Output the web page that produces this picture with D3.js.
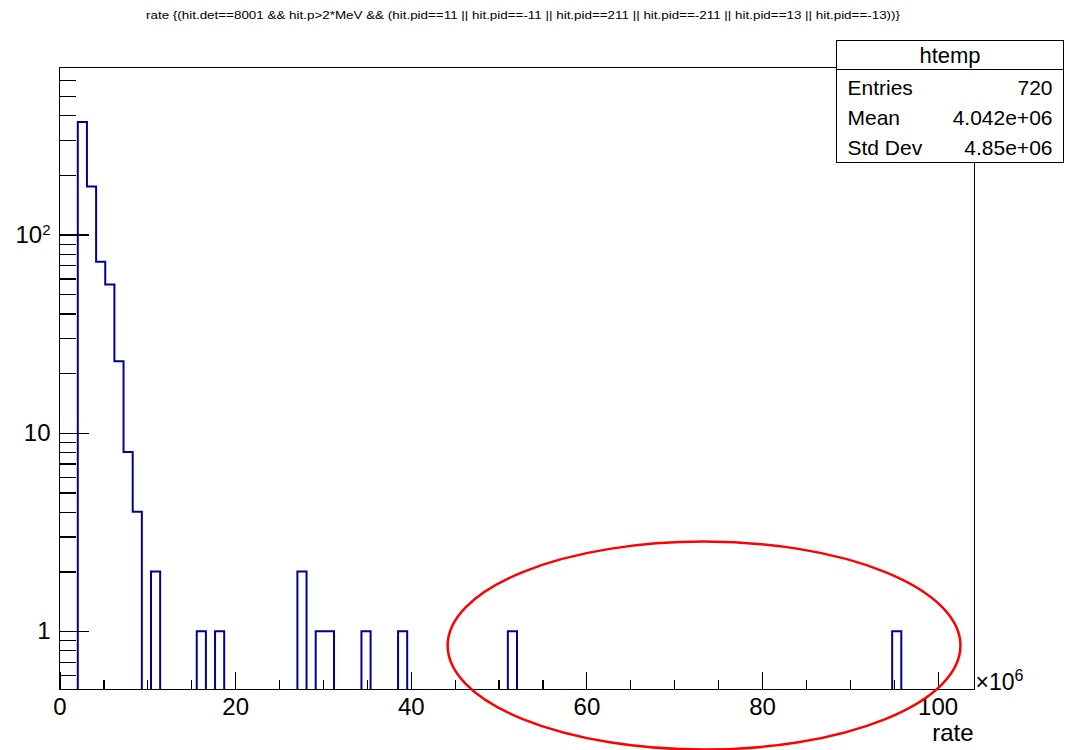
<!DOCTYPE html>
<html>
<head>
<meta charset="utf-8">
<script src="https://cdn.jsdelivr.net/npm/d3@7"></script>
<style>
  body { margin: 0; background: #fff; }
  svg { display: block; font-family: "Liberation Sans", Arial, Helvetica, sans-serif; }
</style>
</head>
<body>
<div id="chart"></div>
<script>
// histogram definition (x in units of 10^6)
var titleText = "rate {(hit.det==8001 && hit.p>2*MeV && (hit.pid==11 || hit.pid==-11 || hit.pid==211 || hit.pid==-211 || hit.pid==13 || hit.pid==-13))}";
var histName = "htemp";
var nBins = 100, xLow = 0, xHigh = 104.2;
var counts = [
  0, 0, 370, 175, 73, 56, 23, 8, 4, 0, 2, 0, 0, 0, 0, 1, 0, 1, 0, 0,
  0, 0, 0, 0, 0, 0, 2, 0, 1, 1, 0, 0, 0, 1, 0, 0, 0, 1, 0, 0,
  0, 0, 0, 0, 0, 0, 0, 0, 0, 1, 0, 0, 0, 0, 0, 0, 0, 0, 0, 0,
  0, 0, 0, 0, 0, 0, 0, 0, 0, 0, 0, 0, 0, 0, 0, 0, 0, 0, 0, 0,
  0, 0, 0, 0, 0, 0, 0, 0, 0, 0, 0, 1, 0, 0, 0, 0, 0, 0, 0, 0
];
var statsLabels = ["Entries", "Mean", "Std Dev"];
var statsValues = ["720", "4.042e+06", "4.85e+06"];

var xMajorTicks = [0, 20, 40, 60, 80, 100];
var xMinorTicks = [5, 10, 15, 25, 30, 35, 45, 50, 55, 65, 70, 75, 85, 90, 95];
var yMajorTicks = [1, 10, 100];
var yMinorTicks = [0.6, 0.7, 0.8, 0.9, 2, 3, 4, 5, 6, 7, 8, 9, 20, 30, 40, 50, 60, 70, 80, 90, 200, 300, 400, 500, 600];
var yDomain = [0.508, 696];

// red ellipse drawn over the plot (data coords)
var ringX = [44.2, 102.6], ringY = [0.253, 2.83];

// frame
var W = 1066, H = 750;
var frame = { left: 59.5, top: 67.5, right: 974.5, bottom: 689.5 };

var svg = d3.select("#chart").append("svg")
  .attr("width", W).attr("height", H);

var x = d3.scaleLinear().domain([xLow, xHigh]).range([frame.left, frame.right]);
var y = d3.scaleLog().domain(yDomain).range([frame.bottom, frame.top]);

// title
svg.append("text")
  .attr("x", 146).attr("y", 19)
  .attr("textLength", 754).attr("lengthAdjust", "spacingAndGlyphs")
  .style("font-size", "10px")
  .text(titleText);

// histogram outline
svg.append("clipPath").attr("id", "clip")
  .append("rect")
  .attr("x", frame.left).attr("y", frame.top)
  .attr("width", frame.right - frame.left).attr("height", frame.bottom - frame.top - 0.5);

var bw = (xHigh - xLow) / nBins;
var zeroY = frame.bottom + 4;
var pts = [[x(xLow), zeroY]];
counts.forEach(function (c, i) {
  var yy = c > 0 ? y(c) : zeroY;
  pts.push([x(xLow + i * bw), yy]);
  pts.push([x(xLow + (i + 1) * bw), yy]);
});
pts.push([x(xHigh), zeroY]);

svg.append("path")
  .attr("clip-path", "url(#clip)")
  .attr("d", d3.line()(pts))
  .attr("fill", "none")
  .attr("stroke", "#000099")
  .attr("stroke-width", 2);

// X axis
svg.append("g")
  .attr("transform", "translate(0," + frame.bottom + ")")
  .call(d3.axisBottom(x).tickValues(xMinorTicks).tickSizeInner(-10).tickSizeOuter(0).tickFormat(""))
  .call(function (g) { g.select(".domain").remove(); });

svg.append("g")
  .attr("transform", "translate(0," + frame.bottom + ")")
  .call(d3.axisBottom(x).tickValues(xMajorTicks).tickSizeInner(-18).tickSizeOuter(0).tickPadding(8).tickFormat(d3.format("d")))
  .call(function (g) { g.select(".domain").remove(); })
  .selectAll("text")
  .attr("fill", "#000")
  .style("font-size", "24px")
  .style("font-family", "Liberation Sans, Arial, sans-serif");

// Y axis
svg.append("g")
  .attr("transform", "translate(" + frame.left + ",0)")
  .call(d3.axisLeft(y).tickValues(yMinorTicks).tickSizeInner(-16).tickSizeOuter(0).tickFormat(""))
  .call(function (g) { g.select(".domain").remove(); });

var yAx = svg.append("g")
  .attr("transform", "translate(" + frame.left + ",0)")
  .call(d3.axisLeft(y).tickValues(yMajorTicks).tickSizeInner(-29).tickSizeOuter(0).tickPadding(9).tickFormat(""))
  .call(function (g) { g.select(".domain").remove(); });

yAx.selectAll(".tick text")
  .attr("fill", "#000")
  .style("font-size", "24px")
  .style("font-family", "Liberation Sans, Arial, sans-serif")
  .each(function (d) {
    var t = d3.select(this);
    if (d >= 100) {
      t.text("10");
      t.append("tspan").attr("dy", "-0.5em").style("font-size", "15px").text(String(Math.round(Math.log10(d))));
    } else {
      t.text(String(d));
    }
  });

svg.selectAll(".tick line")
  .attr("stroke", "#000")
  .attr("stroke-width", 1.2)
  .attr("shape-rendering", "crispEdges");

// frame
svg.append("rect")
  .attr("x", frame.left).attr("y", frame.top)
  .attr("width", frame.right - frame.left).attr("height", frame.bottom - frame.top)
  .attr("fill", "none").attr("stroke", "#000").attr("stroke-width", 1.2)
  .attr("shape-rendering", "crispEdges");

// x10^6 and axis title
var exp = svg.append("text")
  .attr("x", frame.right + 1).attr("y", frame.bottom)
  .style("font-size", "23px");
exp.append("tspan").text("\u00d710");
exp.append("tspan").attr("dy", "-0.55em").style("font-size", "16px").text("6");

svg.append("text")
  .attr("x", frame.right - 1).attr("y", 741)
  .attr("text-anchor", "end")
  .style("font-size", "24px")
  .text("rate");

// stats box
var box = { x: 836.5, y: 40.5, w: 227, h: 122, head: 29 };
var st = svg.append("g");
st.append("rect")
  .attr("x", box.x).attr("y", box.y).attr("width", box.w).attr("height", box.h)
  .attr("fill", "#fff").attr("stroke", "#000").attr("stroke-width", 1.2)
  .attr("shape-rendering", "crispEdges");
st.append("line")
  .attr("x1", box.x).attr("x2", box.x + box.w)
  .attr("y1", box.y + box.head).attr("y2", box.y + box.head)
  .attr("stroke", "#000").attr("stroke-width", 1.2)
  .attr("shape-rendering", "crispEdges");
st.append("text")
  .attr("x", box.x + box.w / 2).attr("y", 63)
  .attr("text-anchor", "middle")
  .style("font-size", "22px")
  .text(histName);
statsLabels.forEach(function (lab, i) {
  st.append("text")
    .attr("x", box.x + 11).attr("y", 95 + i * 30.2)
    .style("font-size", "21px")
    .text(lab);
  st.append("text")
    .attr("x", box.x + box.w - 11).attr("y", 95 + i * 30.2)
    .attr("text-anchor", "end")
    .style("font-size", "21px")
    .text(statsValues[i]);
});

// red ring annotation
var cx = (x(ringX[0]) + x(ringX[1])) / 2, rx = (x(ringX[1]) - x(ringX[0])) / 2;
var cy = (y(ringY[0]) + y(ringY[1])) / 2, ry = (y(ringY[0]) - y(ringY[1])) / 2;
svg.append("ellipse")
  .attr("cx", cx).attr("cy", cy).attr("rx", rx).attr("ry", ry)
  .attr("fill", "none").attr("stroke", "#ff0000").attr("stroke-width", 2.5);
</script>
</body>
</html>
